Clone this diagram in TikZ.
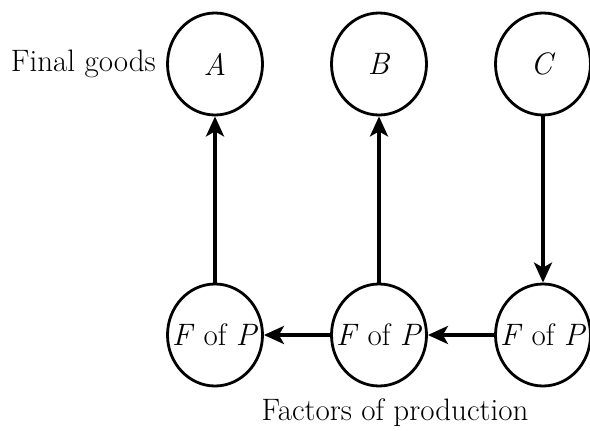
\documentclass[tikz,border=0pt]{standalone}
\usetikzlibrary{shapes.geometric,arrows.meta}
\begin{document}
\begin{tikzpicture}[x=1pt,y=-1pt,
  good/.style={ellipse,draw,line width=2.8pt,minimum width=95pt,minimum height=102pt,inner sep=0pt,font=\fontsize{31}{35}\selectfont},
  lbl/.style={font=\fontsize{31}{35}\selectfont,inner sep=0pt},
  flow/.style={line width=3.5pt,-{Stealth[length=20pt,width=18pt,inset=5pt]}}]
\useasboundingbox (0,0) rectangle (590,431);
\newcommand\fofp{\makebox[0pt]{\textit{F} of \textit{P}}}
\node[good] (A) at (215,64) {\textit{A}};
\node[good] (B) at (379,64) {\textit{B}};
\node[good] (C) at (543,64) {\textit{C}};
\node[good] (F1) at (215,335) {\fofp};
\node[good] (F2) at (379,335) {\fofp};
\node[good] (F3) at (543,335) {\fofp};
\node[lbl,anchor=east] (fg) at (156,64) {Final goods};
\node[lbl] (fp) at (395,413) {Factors of production};
\draw[flow] (F1) -- (A);
\draw[flow] (F2) -- (B);
\draw[flow] (C) -- (F3);
\draw[flow] (F2) -- (F1);
\draw[flow] (F3) -- (F2);
\end{tikzpicture}
\end{document}
